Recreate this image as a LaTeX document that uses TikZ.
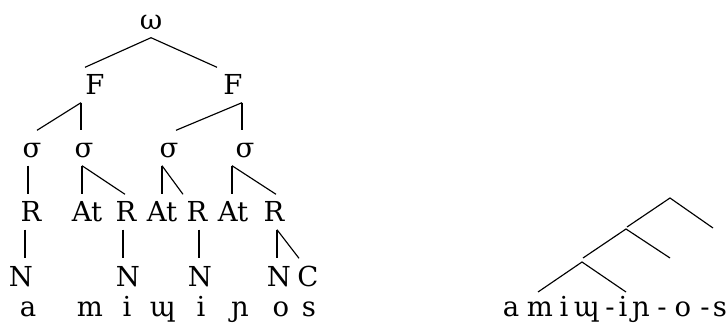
\documentclass[tikz,border=0pt]{standalone}
\usepackage{fontspec}
\setmainfont{DejaVu Serif}
\begin{document}
\begin{tikzpicture}[x=1pt,y=-1pt,
  lbl/.style={anchor=base,inner xsep=0pt,inner ysep=7.5pt,text height=20pt,text depth=0pt,
    font=\fontsize{27.5}{32}\selectfont},
  seg/.style={anchor=base,inner sep=0pt,font=\fontsize{27.5}{32}\selectfont},
  br/.style={line width=1.15pt}]
\useasboundingbox (0,0) rectangle (728,323);

% prosodic word and feet
\node[lbl] (w)  at (151,30) {ω};
\node[lbl] (F1) at (95,95)  {F};
\node[lbl] (F2) at (233,95) {F};
% syllables
\node[lbl] (s1) at (32,158)  {σ};
\node[lbl] (s2) at (84,158)  {σ};
\node[lbl] (s3) at (169,158) {σ};
\node[lbl] (s4) at (245,158) {σ};
% rimes and attachments
\node[lbl] (R1)  at (31,222)  {R};
\node[lbl] (At1) at (87,222)  {At};
\node[lbl] (R2)  at (126,222) {R};
\node[lbl] (At2) at (162,222) {At};
\node[lbl] (R3)  at (197,222) {R};
\node[lbl] (At3) at (233,222) {At};
\node[lbl] (R4)  at (274,222) {R};
% nuclei and coda
\node[lbl] (N1) at (21,286)  {N};
\node[lbl] (N2) at (128,286) {N};
\node[lbl] (N3) at (200,286) {N};
\node[lbl] (N4) at (279,286) {N};
\node[lbl] (C)  at (308,286) {C};
% segments
\node[seg] (a1) at (28,316)  {a};
\node[seg] (a2) at (90,316)  {m};
\node[seg] (a3) at (127,316) {i};
\node[seg] (a4) at (163,316) {ɰ};
\node[seg] (a5) at (201,316) {i};
\node[seg] (a6) at (240,316) {ɲ};
\node[seg] (a7) at (281,316) {o};
\node[seg] (a8) at (309,316) {s};

% branches
\draw[br] (w.south) -- ([xshift=-10pt]F1.north);
\draw[br] (w.south) -- ([xshift=-16pt]F2.north);
\draw[br] ([xshift=-14pt]F1.south) -- ([xshift=5pt]s1.north);
\draw[br] ([xshift=-14pt]F1.south) -- ([xshift=-3pt]s2.north);
\draw[br] ([xshift=9pt]F2.south) -- ([xshift=7pt]s3.north);
\draw[br] ([xshift=9pt]F2.south) -- ([xshift=-3pt]s4.north);
\draw[br] ([xshift=-4pt]s1.south) -- ([xshift=-3pt]R1.north);
\draw[br] ([xshift=-2pt]s2.south) -- ([xshift=-5pt]At1.north);
\draw[br] ([xshift=-2pt]s2.south) -- ([xshift=-1pt]R2.north);
\draw[br] ([xshift=-7pt]s3.south) -- (At2.north);
\draw[br] ([xshift=-7pt]s3.south) -- ([xshift=-14pt]R3.north);
\draw[br] ([xshift=-13pt]s4.south) -- ([xshift=-1pt]At3.north);
\draw[br] ([xshift=-13pt]s4.south) -- ([xshift=2pt]R4.north);
\draw[br] ([xshift=-6pt]R1.south) -- ([xshift=4pt]N1.north);
\draw[br] ([xshift=-3pt]R2.south) -- ([xshift=-5pt]N2.north);
\draw[br] ([xshift=2pt]R3.south) -- ([xshift=-1pt]N3.north);
\draw[br] ([xshift=3pt]R4.south) -- ([xshift=-2pt]N4.north);
\draw[br] ([xshift=3pt]R4.south) -- ([xshift=-9pt]C.north);

% right-branching bracketing tree
\coordinate (t1) at (670,198);
\coordinate (t1l) at (627,227);
\coordinate (t1r) at (713,228);
\coordinate (t2) at (626,229);
\coordinate (t2l) at (583,258);
\coordinate (t2r) at (670,258);
\coordinate (t3) at (582,262);
\coordinate (t3l) at (538,292);
\coordinate (t3r) at (626,292);
\draw[br] (t1l) -- (t1) -- (t1r);
\draw[br] (t2l) -- (t2) -- (t2r);
\draw[br] (t3l) -- (t3) -- (t3r);

\node[seg] (b1)  at (511,316) {a};
\node[seg] (b2)  at (540,316) {m};
\node[seg] (b3)  at (564,316) {i};
\node[seg] (b4)  at (587,316) {ɰ};
\node[seg] (b5)  at (610,316) {-};
\node[seg] (b6)  at (623,316) {i};
\node[seg] (b7)  at (641,316) {ɲ};
\node[seg] (b8)  at (662,316) {-};
\node[seg] (b9)  at (683,316) {o};
\node[seg] (b10) at (705,316) {-};
\node[seg] (b11) at (720,316) {s};
\end{tikzpicture}
\end{document}
